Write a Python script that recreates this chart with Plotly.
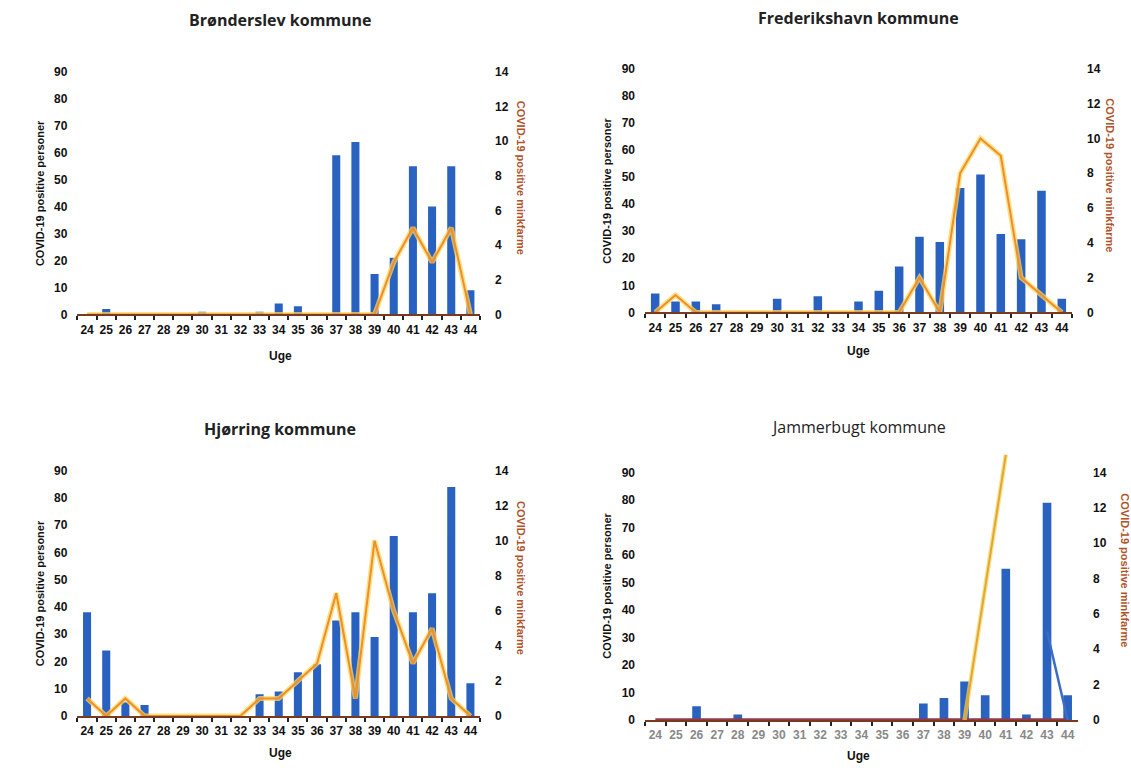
import plotly.graph_objects as go

weeks = [str(w) for w in range(24, 45)]

# Brønderslev
bron_personer = [0, 2, 0, 0, 0, 0, 1, 0, 0, 1, 4, 3, 0, 59, 64, 15, 21, 55, 40, 55, 9]
bron_mink = [0, 0, 0, 0, 0, 0, 0, 0, 0, 0, 0, 0, 0, 0, 0, 0, 3, 5, 3, 5, 0]

# Frederikshavn
fred_personer = [7, 4, 4, 3, 0, 0, 5, 0, 6, 0, 4, 8, 17, 28, 26, 46, 51, 29, 27, 45, 5]
fred_mink = [0, 1, 0, 0, 0, 0, 0, 0, 0, 0, 0, 0, 0, 2, 0, 8, 10, 9, 2, 1, 0]

# Hjørring
hjor_personer = [38, 24, 5, 4, 0, 0, 0, 0, 0, 8, 9, 16, 19, 35, 38, 29, 66, 38, 45, 84, 12]
hjor_mink = [1, 0, 1, 0, 0, 0, 0, 0, 0, 1, 1, 2, 3, 7, 1, 10, 6, 3, 5, 1, 0]

# Jammerbugt
jamm_personer = [0, 0, 5, 0, 2, 0, 0, 0, 0, 0, 0, 0, 0, 6, 8, 14, 9, 55, 2, 79, 9]
jamm_mink = [None, None, None, None, None, None, None, None, None, None, None, None,
             None, None, None, 0, None, 15, None, None, None]
jamm_base = [0] * 21
jamm_other = [None] * 19 + [5, 0]

left_title = "COVID-19 positive personer"
right_title = "COVID-19 positive minkfarme"
x_title = "Uge"
y_ticks = list(range(0, 91, 10))
y2_ticks = list(range(0, 15, 2))

BLUE = "#2A62C0"
ORANGE = "#EE8E2C"
GLOW = "#FFD75A"
FONT = "Liberation Sans, Arial"

panels = [
    dict(name="Brønderslev kommune", bars=bron_personer, mink=bron_mink,
         xd=[0.0685, 0.4244], yd=[0.5987, 0.9154], top=90, cx=280, ty=13, tyu=355,
         lx=40, rx=521, weight="bold", xcol="#111"),
    dict(name="Frederikshavn kommune", bars=fred_personer, mink=fred_mink,
         xd=[0.5703, 0.9478], yd=[0.6013, 0.9192], top=90, cx=858, ty=11, tyu=350,
         lx=607, rx=1110, weight="bold", xcol="#111"),
    dict(name="Hjørring kommune", bars=hjor_personer, mink=hjor_mink,
         xd=[0.0685, 0.4244], yd=[0.0744, 0.3949], top=90, cx=280, ty=430, tyu=760,
         lx=40, rx=521, weight="bold", xcol="#111"),
    dict(name="Jammerbugt kommune", bars=jamm_personer, mink=jamm_mink,
         xd=[0.5703, 0.9531], yd=[0.0692, 0.4200], top=97.7, cx=858, ty=428, tyu=763,
         lx=607, rx=1125, weight="normal", xcol="#888"),
]

fig = go.Figure()
W, H = 1131, 780
annotations = []
layout = {}

for k, p in enumerate(panels, start=1):
    xa = "x" if k == 1 else f"x{k}"
    ya = f"y{2*k-1}" if k > 1 else "y"
    yb = f"y{2*k}"
    xkey = "xaxis" if k == 1 else f"xaxis{k}"
    ykey = "yaxis" if k == 1 else f"yaxis{2*k-1}"
    y2key = f"yaxis{2*k}"

    fig.add_trace(go.Bar(x=weeks, y=p["bars"], marker_color=BLUE, marker_line_width=0,
                         xaxis=xa, yaxis=ya, showlegend=False))
    if k == 4:
        fig.add_trace(go.Scatter(x=weeks, y=jamm_base, mode="lines",
                                 line=dict(color="#8E3B4E", width=3.5),
                                 xaxis=xa, yaxis=yb, showlegend=False))
        fig.add_trace(go.Scatter(x=weeks, y=p["mink"], mode="lines", connectgaps=True,
                                 line=dict(color="#F5D56A", width=4.5),
                                 xaxis=xa, yaxis=yb, showlegend=False, opacity=0.7))
        fig.add_trace(go.Scatter(x=weeks, y=p["mink"], mode="lines", connectgaps=True,
                                 line=dict(color="#E3A72A", width=2),
                                 xaxis=xa, yaxis=yb, showlegend=False))
        fig.add_trace(go.Scatter(x=weeks, y=jamm_other, mode="lines",
                                 line=dict(color="#3A6CC8", width=2.5),
                                 xaxis=xa, yaxis=yb, showlegend=False))
    else:
        fig.add_trace(go.Scatter(x=weeks, y=p["mink"], mode="lines",
                                 line=dict(color=GLOW, width=5),
                                 xaxis=xa, yaxis=yb, showlegend=False, opacity=0.75))
        fig.add_trace(go.Scatter(x=weeks, y=p["mink"], mode="lines",
                                 line=dict(color=ORANGE, width=2),
                                 xaxis=xa, yaxis=yb, showlegend=False))

    r2 = 14 * p["top"] / 90
    layout[xkey] = dict(domain=p["xd"], anchor=ya, type="category",
                        showgrid=False, showline=True, linecolor="#7A3A22", linewidth=1.5,
                        ticks="outside", tickson="boundaries", ticklen=4, tickcolor="#222",
                        tickwidth=1.5, ticklabelstandoff=3, tickangle=0,
                        tickfont=dict(family=FONT, size=12, color=p["xcol"], weight="bold"),
                        fixedrange=True)
    layout[ykey] = dict(domain=p["yd"], anchor=xa, range=[0, p["top"]],
                        tickvals=y_ticks, showgrid=False, zeroline=False, showline=False,
                        ticks="", ticklabelstandoff=9,
                        tickfont=dict(family=FONT, size=12, color="#111", weight="bold"))
    layout[y2key] = dict(overlaying=ya, anchor=xa, side="right", range=[0, r2],
                         tickvals=y2_ticks, showgrid=False, zeroline=False, showline=False,
                         ticks="", ticklabelstandoff=14,
                         tickfont=dict(family=FONT, size=12, color="#111", weight="bold"))

    annotations.append(dict(text=p["name"], x=p["cx"] / W, y=1 - p["ty"] / H,
                            xref="paper", yref="paper", showarrow=False,
                            xanchor="center", yanchor="middle",
                            font=dict(family="Open Sans, Liberation Sans", size=16,
                                      color="#222", weight=p["weight"] if p["weight"] == "bold" else 400)))
    annotations.append(dict(text=x_title, x=p["cx"] / W, y=1 - p["tyu"] / H,
                            xref="paper", yref="paper", showarrow=False,
                            xanchor="center", yanchor="middle",
                            font=dict(family=FONT, size=12, color="#111", weight="bold")))
    ycen = (p["yd"][0] + p["yd"][1]) / 2
    annotations.append(dict(text=left_title, x=p["lx"] / W, y=ycen,
                            xref="paper", yref="paper", showarrow=False, textangle=-90,
                            xanchor="center", yanchor="middle",
                            font=dict(family=FONT, size=11, color="#111", weight="bold")))
    annotations.append(dict(text=right_title, x=p["rx"] / W, y=ycen + 0.02,
                            xref="paper", yref="paper", showarrow=False, textangle=90,
                            xanchor="center", yanchor="middle",
                            font=dict(family=FONT, size=11, color="#B0532A", weight="bold")))

fig.update_layout(**layout)
fig.update_layout(width=W, height=H, margin=dict(l=0, r=0, t=0, b=0),
                  paper_bgcolor="white", plot_bgcolor="rgba(0,0,0,0)",
                  bargap=0.58, showlegend=False, annotations=annotations,
                  font=dict(family=FONT))

fig.write_html("out.html", config={"displayModeBar": False})
